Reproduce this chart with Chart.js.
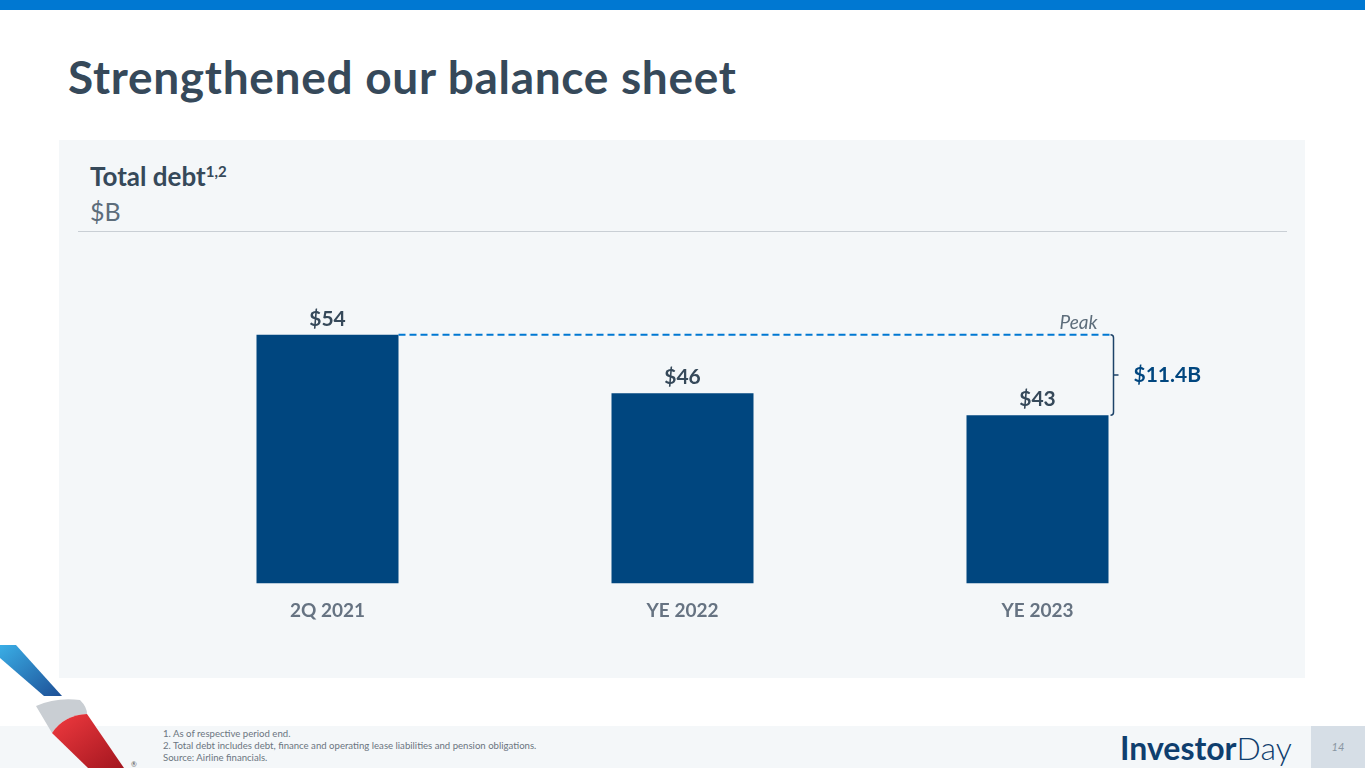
<!DOCTYPE html>
<html>
<head>
<meta charset="utf-8">
<script src="https://cdn.jsdelivr.net/npm/chart.js@4"></script>
<style>
    body { margin: 0; width: 1365px; height: 768px; position: relative; overflow: hidden; background: #ffffff; font-family: Lato, "Open Sans", sans-serif; }
    .topbar { position: absolute; left: 0; top: 0; width: 1365px; height: 10px; background: #0078d2; }
    .title { position: absolute; left: 68px; top: 49px; font-size: 46px; font-weight: 700; letter-spacing: 0.7px; color: #36495a; white-space: nowrap; }
    .panel { position: absolute; left: 59px; top: 140px; width: 1246px; height: 538px; background: #f4f7f9; }
    .panel h2 { position: absolute; left: 31px; top: 20px; margin: 0; font-size: 26px; font-weight: 700; color: #36495a; white-space: nowrap; }
    .panel h2 sup { font-size: 15px; vertical-align: 9px; line-height: 0; }
    .panel .unit { position: absolute; left: 31px; top: 56px; font-size: 25px; color: #5d6d7b; }
    .panel .rule { position: absolute; left: 19px; top: 91px; width: 1209px; height: 1px; background: #c9cfd5; }
    #chart { position: absolute; left: 1px; top: 100px; }
    .footer { position: absolute; left: 0; top: 726px; width: 1365px; height: 42px; background: #f4f7f9; }
    .notes { position: absolute; left: 163px; top: 728px; font-size: 9.6px; line-height: 12px; color: #6b7580; white-space: nowrap; }
    .brand { position: absolute; left: 1120px; top: 728px; font-size: 32px; color: #0f3e6e; white-space: nowrap; }
    .brand b { font-weight: 700; }
    .brand span { font-weight: 300; }
    .page { position: absolute; left: 1311px; top: 726px; width: 54px; height: 42px; background: #d6dee6; color: #8a96a2; font-size: 11px; font-style: italic; text-align: center; line-height: 42px; }
    .logo { position: absolute; left: 0; top: 640px; }
</style>
</head>
<body>
<div class="topbar"></div>
<div class="title">Strengthened our balance sheet</div>

<div class="panel">
    <h2>Total debt<sup>1,2</sup></h2>
    <div class="unit">$B</div>
    <div class="rule"></div>
    <canvas id="chart" width="1245" height="400"></canvas>
</div>

<div class="footer"></div>
<div class="notes">
    1. As of respective period end.<br>
    2. Total debt includes debt, finance and operating lease liabilities and pension obligations.<br>
    Source: Airline financials.
</div>
<div class="brand"><b>Investor</b><span>Day</span></div>
<div class="page">14</div>

<svg class="logo" width="140" height="128" viewBox="0 640 140 128">
    <defs>
        <linearGradient id="blue" x1="0" y1="0" x2="1" y2="1">
            <stop offset="0" stop-color="#3aaee6"/>
            <stop offset="1" stop-color="#1d4f96"/>
        </linearGradient>
        <linearGradient id="red" x1="0" y1="0" x2="1" y2="1">
            <stop offset="0" stop-color="#f03a3f"/>
            <stop offset="1" stop-color="#a3161f"/>
        </linearGradient>
    </defs>
    <polygon points="0,645 16,645 62,696 44,696 0,658" fill="url(#blue)"/>
    <path d="M36,706 Q56,697 80,700 Q87,707 87,714 Q64,715 52,733 Z" fill="#c9ced3"/>
    <path d="M52,733 Q64,715 87,714 L124,768 L88,768 Z" fill="url(#red)"/>
    <text x="131" y="767" font-size="7" fill="#555">®</text>
</svg>

<script>
// chart data
var categories = ['2Q 2021', 'YE 2022', 'YE 2023'];
var totalDebt = [54, 46, 43];
var debtLabels = ['$54', '$46', '$43'];
var reductionLabel = '$11.4B';
var peakLabel = 'Peak';

// labels, peak line and bracket
var annotations = {
    id: 'annotations',
    afterDatasetsDraw: function (chart) {
        var ctx = chart.ctx;
        var bars = chart.getDatasetMeta(0).data;
        var y = chart.scales.y;

        ctx.save();
        ctx.font = 'bold 21px Lato';
        ctx.fillStyle = '#36495a';
        ctx.textAlign = 'center';
        ctx.textBaseline = 'alphabetic';
        bars.forEach(function (bar, i) {
            ctx.fillText(debtLabels[i], bar.x, bar.y - 9);
        });

        var first = bars[0];
        var last = bars[bars.length - 1];
        var peakY = y.getPixelForValue(totalDebt[0]);
        var lowY = y.getPixelForValue(totalDebt[totalDebt.length - 1]);
        var bx = last.x + last.width / 2 + 5;

        // dashed peak line
        ctx.strokeStyle = '#0078d2';
        ctx.lineWidth = 2;
        ctx.setLineDash([7, 4]);
        ctx.beginPath();
        ctx.moveTo(first.x + first.width / 2, peakY);
        ctx.lineTo(bx - 3, peakY);
        ctx.stroke();
        ctx.setLineDash([]);

        // bracket
        var midY = (peakY + lowY) / 2;
        ctx.strokeStyle = '#1d4369';
        ctx.lineWidth = 1.5;
        ctx.beginPath();
        ctx.moveTo(bx - 3, peakY);
        ctx.quadraticCurveTo(bx, peakY, bx, peakY + 3);
        ctx.lineTo(bx, lowY - 3);
        ctx.quadraticCurveTo(bx, lowY, bx - 3, lowY);
        ctx.moveTo(bx, midY);
        ctx.lineTo(bx + 5, midY);
        ctx.stroke();

        ctx.font = 'bold 21px Lato';
        ctx.fillStyle = '#00467f';
        ctx.textAlign = 'left';
        ctx.textBaseline = 'middle';
        ctx.fillText(reductionLabel, bx + 20, midY);

        ctx.font = 'italic 19px Lato';
        ctx.fillStyle = '#5d6d7b';
        ctx.textAlign = 'right';
        ctx.textBaseline = 'alphabetic';
        ctx.fillText(peakLabel, bx - 16, peakY - 6);
        ctx.restore();
    }
};

var ctx1 = document.getElementById('chart').getContext('2d');
var debtChart = new Chart(ctx1, {
    type: 'bar',
    data: {
        labels: categories,
        datasets: [{
            data: totalDebt,
            backgroundColor: '#00467f',
            categoryPercentage: 0.4,
            barPercentage: 1
        }]
    },
    options: {
        responsive: false,
        animation: false,
        layout: {
            padding: {left: 90, right: 90, top: 51, bottom: 2}
        },
        plugins: {
            legend: {display: false},
            tooltip: {enabled: false}
        },
        scales: {
            x: {
                grid: {display: false, drawTicks: false},
                border: {display: false},
                ticks: {
                    color: '#667382',
                    font: {family: 'Lato', size: 19, weight: 'bold'},
                    padding: 16
                }
            },
            y: {
                display: false,
                min: 20,
                max: 60
            }
        }
    },
    plugins: [annotations]
});
</script>
</body>
</html>
